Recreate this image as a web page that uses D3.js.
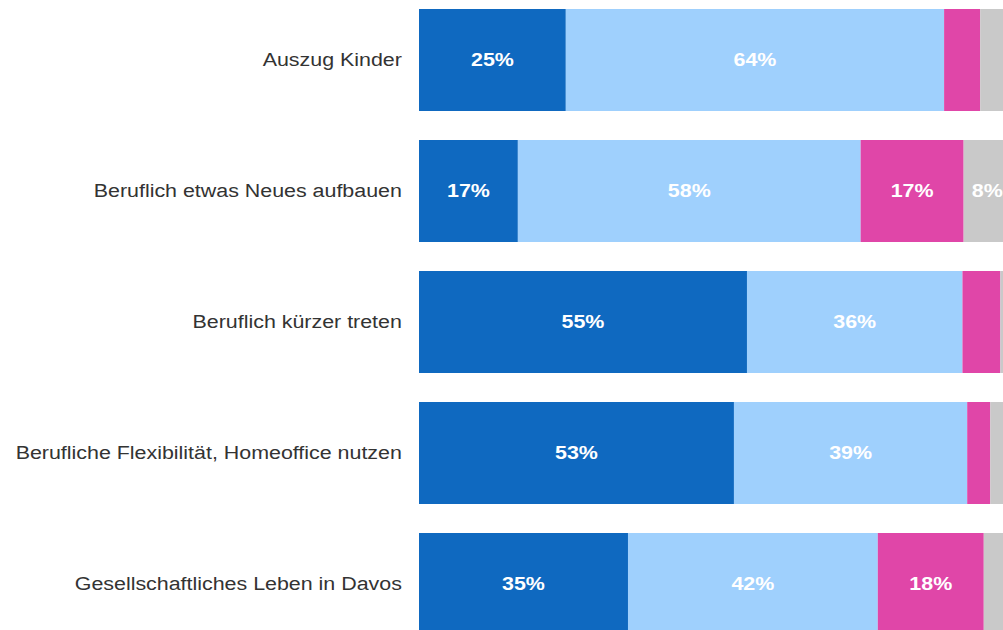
<!DOCTYPE html>
<html>
<head>
<meta charset="utf-8">
<script src="https://d3js.org/d3.v7.min.js"></script>
<style>
  body { margin: 0; background: #fff; overflow: hidden; }
  text { font-family: Arial, "Liberation Sans", sans-serif; }
</style>
</head>
<body>
<div id="chart"></div>
<script>
// categories, top to bottom
var categories = [
    'Auszug Kinder',
    'Beruflich etwas Neues aufbauen',
    'Beruflich kürzer treten',
    'Berufliche Flexibilität, Homeoffice nutzen',
    'Gesellschaftliches Leben in Davos'
]
// shares in percent (one value per category)
var sehrWichtig   = [24.8, 16.7, 55.4, 53.2, 35.3]
var eherWichtig   = [63.9, 57.9, 36.4, 39.4, 42.2]
var eherUnwichtig = [6.1, 17.4, 6.4, 3.9, 17.9]
var unwichtig     = [5.2, 8.0, 1.8, 3.5, 4.6]

var seriesKeys = ['sehrWichtig', 'eherWichtig', 'eherUnwichtig', 'unwichtig']
var seriesColors = ['#0f69c0', '#9fd0fd', '#e046a8', '#c9c9c9']

var width = 1003
var height = 630
// the original is a bit stretched sideways, text too
var stretch = 1.19

var table = categories.map(function(c, i) {
    return {
        cat: c,
        sehrWichtig: sehrWichtig[i],
        eherWichtig: eherWichtig[i],
        eherUnwichtig: eherUnwichtig[i],
        unwichtig: unwichtig[i]
    }
})

var svg = d3.select('#chart').append('svg')
    .attr('width', width)
    .attr('height', height)

var x = d3.scaleLinear().domain([0, 100]).range([419, 1011])
var y = d3.scaleBand()
    .domain(categories)
    .range([9, 635])
    .paddingInner(0.2214)
    .paddingOuter(0)

var color = d3.scaleOrdinal().domain(seriesKeys).range(seriesColors)

var stacked = d3.stack().keys(seriesKeys)(table)

var layers = svg.append('g').attr('id', 'bars')
    .selectAll('g')
    .data(stacked)
    .join('g')
    .attr('fill', function(d) { return color(d.key) })

layers.selectAll('rect')
    .data(function(d) { return d })
    .join('rect')
    .attr('x', function(d) { return x(d[0]) })
    .attr('y', function(d) { return y(d.data.cat) })
    .attr('width', function(d) { return x(d[1]) - x(d[0]) })
    .attr('height', y.bandwidth())

// value labels, only where the segment is wide enough
layers.selectAll('text')
    .data(function(d) { return d.filter(function(s) { return s[1] - s[0] >= 7 }) })
    .join('text')
    .attr('transform', function(d) {
        var cx = (x(d[0]) + x(d[1])) / 2
        var cy = y(d.data.cat) + y.bandwidth() / 2
        return 'translate(' + cx + ',' + cy + ') scale(' + stretch + ',1)'
    })
    .attr('dy', '0.35em')
    .attr('text-anchor', 'middle')
    .attr('fill', '#fff')
    .attr('font-size', '18px')
    .attr('font-weight', 'bold')
    .text(function(d) { return Math.round(d[1] - d[0]) + '%' })

// category axis on the left, no line or ticks
var yAxis = svg.append('g')
    .attr('transform', 'translate(409, 0)')
    .call(d3.axisLeft(y).tickSize(0).tickPadding(6))
yAxis.select('.domain').remove()
yAxis.selectAll('text')
    .attr('transform', 'scale(' + stretch + ',1)')
    .attr('font-family', 'Arial, "Liberation Sans", sans-serif')
    .attr('font-size', '18px')
    .attr('fill', '#333')
</script>
</body>
</html>
